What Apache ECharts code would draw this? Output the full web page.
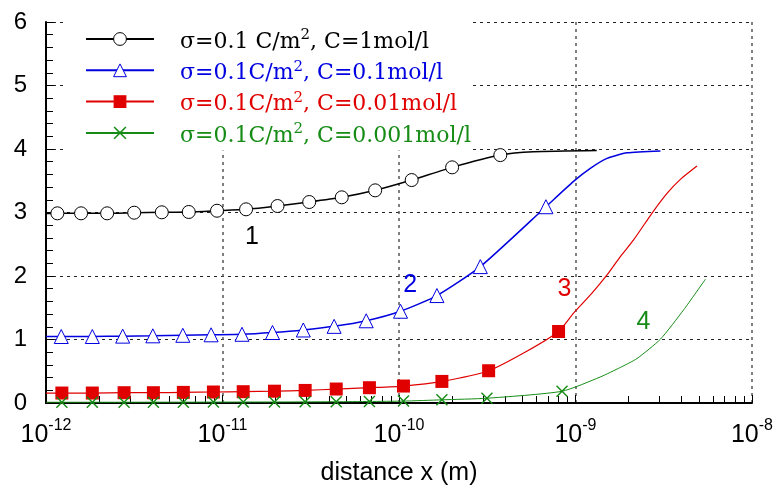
<!DOCTYPE html>
<html>
<head>
<meta charset="utf-8">
<script src="https://cdn.jsdelivr.net/npm/echarts@6/dist/echarts.min.js"></script>
<style>html,body{margin:0;padding:0;background:#fff}#chart{width:776px;height:491px}</style>
</head>
<body>
<div id="chart"></div>
<script>
// ---------------- data ----------------
const seriesNames = ['c1', 'c2', 'c3', 'c4'];
const legendParts = [
  ['σ=0.1 C/m', ', C=1mol/l'],
  ['σ=0.1C/m', ', C=0.1mol/l'],
  ['σ=0.1C/m', ', C=0.01mol/l'],
  ['σ=0.1C/m', ', C=0.001mol/l']
];
const seriesColors = ['#000000', '#0000e0', '#e00000', '#168c16'];

// curve 1 (black, circles)
const c1MarkX = [1.16e-12, 1.58e-12, 2.22e-12, 3.16e-12, 4.53e-12, 6.44e-12, 9.31e-12, 1.36e-11, 2.05e-11, 3.10e-11, 4.74e-11, 7.33e-11, 1.18e-10, 2.00e-10, 3.75e-10];
const c1MarkY = [2.987, 2.987, 2.987, 2.997, 3.003, 3.008, 3.028, 3.05, 3.102, 3.165, 3.239, 3.349, 3.511, 3.711, 3.904];
const c1LineX = [1e-12, 5.79e-10, 1.32e-9];
const c1LineY = [2.985, 3.955, 3.975];

// curve 2 (blue, triangles)
const c2MarkX = [1.22e-12, 1.83e-12, 2.72e-12, 4.03e-12, 5.96e-12, 8.62e-12, 1.29e-11, 1.92e-11, 2.87e-11, 4.29e-11, 6.52e-11, 1.02e-10, 1.64e-10, 2.89e-10, 6.80e-10];
const c2MarkY = [1.047, 1.047, 1.053, 1.058, 1.066, 1.074, 1.082, 1.11, 1.15, 1.207, 1.295, 1.445, 1.692, 2.148, 3.091];
const c2LineX = [1e-12, 9.75e-10, 1.213e-9, 1.509e-9, 1.96e-9, 3.03e-9];
const c2LineY = [1.047, 3.49, 3.695, 3.852, 3.94, 3.97];

// curve 3 (red, squares)
const c3MarkX = [1.23e-12, 1.83e-12, 2.77e-12, 4.06e-12, 6.0e-12, 8.88e-12, 1.31e-11, 1.97e-11, 2.94e-11, 4.41e-11, 6.8e-11, 1.06e-10, 1.75e-10, 3.22e-10, 8.02e-10];
const c3MarkY = [0.157, 0.157, 0.162, 0.162, 0.167, 0.173, 0.178, 0.186, 0.198, 0.22, 0.241, 0.267, 0.34, 0.508, 1.126];
const c3LineX = [1e-12, 5.08e-10, 9.75e-10, 1.24e-9, 1.509e-9, 1.795e-9, 2.134e-9, 2.735e-9, 3.30e-9, 3.93e-9, 4.88e-9];
const c3LineY = [0.155, 0.786, 1.415, 1.73, 2.017, 2.305, 2.568, 3.003, 3.302, 3.522, 3.731];

// curve 4 (green, crosses)
const c4MarkX = [1.23e-12, 1.83e-12, 2.77e-12, 4.06e-12, 6.0e-12, 8.88e-12, 1.31e-11, 1.97e-11, 2.94e-11, 4.41e-11, 6.8e-11, 1.06e-10, 1.75e-10, 3.15e-10, 8.39e-10];
const c4MarkY = [0.012, 0.012, 0.012, 0.013, 0.013, 0.014, 0.015, 0.016, 0.018, 0.02, 0.024, 0.03, 0.05, 0.075, 0.185];
const c4LineX = [1e-12, 1.38e-9, 1.795e-9, 2.23e-9, 3.03e-9, 4.1e-9, 5.45e-9];
const c4LineY = [0.012, 0.409, 0.56, 0.70, 1.006, 1.467, 1.95];

// curve number labels (data coordinates)
const curveLabelText = ['1', '2', '3', '4'];
const curveLabelX = [1.47e-11, 1.157e-10, 8.67e-10, 2.43e-9];
const curveLabelY = [2.615, 1.86, 1.797, 1.267];

// axes
const xMin = 1e-12, xMax = 1e-8;
const xDecadeExponents = [-12, -11, -10, -9];
const minorTickMultipliers = [2, 3, 4, 5, 6, 7, 8, 9];
const yMin = 0, yMax = 6, yInterval = 1;
const xAxisName = 'distance x (m)';

// ---------------- build ----------------
const SANS = 'Liberation Sans, Arial, sans-serif';
const SERIF = 'DejaVu Serif, Liberation Serif, serif';
const crossPath = 'path://M0,1L1,0L6,5L11,0L12,1L7,6L12,11L11,12L6,7L1,12L0,11L5,6Z';
const symbols = ['circle', 'triangle', 'rect', crossPath];
const symbolSizes = [13, 14, 13, 12];
const symbolFills = ['#ffffff', '#ffffff', '#e00000', '#168c16'];
const symbolBorders = [1, 1, 0, 0];
const lineWidths = [1.5, 1.5, 1.2, 1];

function buildData(mx, my, lx, ly) {
  const pts = [];
  mx.forEach((x, i) => pts.push({ value: [x, my[i]] }));
  lx.forEach((x, i) => pts.push({ value: [x, ly[i]], symbol: 'none' }));
  pts.sort((a, b) => a.value[0] - b.value[0]);
  return pts;
}
const allData = [
  buildData(c1MarkX, c1MarkY, c1LineX, c1LineY),
  buildData(c2MarkX, c2MarkY, c2LineX, c2LineY),
  buildData(c3MarkX, c3MarkY, c3LineX, c3LineY),
  buildData(c4MarkX, c4MarkY, c4LineX, c4LineY)
];

const minorTickLogs = [];
xDecadeExponents.forEach(e => minorTickMultipliers.forEach(m => minorTickLogs.push(e + Math.log10(m))));

const series = seriesNames.map((name, i) => ({
  name: name,
  type: 'line',
  xAxisIndex: 0,
  data: allData[i],
  smooth: 0.2,
  symbol: symbols[i],
  symbolSize: symbolSizes[i],
  showAllSymbol: true,
  lineStyle: { color: seriesColors[i], width: lineWidths[i] },
  itemStyle: { color: symbolFills[i], borderColor: seriesColors[i], borderWidth: symbolBorders[i] },
  emphasis: { disabled: true },
  markPoint: {
    symbol: 'circle',
    symbolSize: 1,
    itemStyle: { color: 'rgba(0,0,0,0)', borderWidth: 0 },
    label: {
      show: true, position: 'inside', formatter: curveLabelText[i],
      fontFamily: SANS, fontSize: 25, color: seriesColors[i]
    },
    data: [{ coord: [curveLabelX[i], curveLabelY[i]] }]
  },
  z: 2
}));

const option = {
  animation: false,
  backgroundColor: '#fff',
  grid: { left: 46, right: 24, top: 22, bottom: 88, containLabel: false },
  xAxis: [{
    type: 'log', logBase: 10, min: xMin, max: xMax,
    name: xAxisName, nameLocation: 'middle', nameGap: 58,
    nameTextStyle: { fontFamily: SANS, fontSize: 25, color: '#000' },
    axisLine: { show: true, onZero: false, lineStyle: { color: '#000', width: 2 } },
    axisTick: { show: true, inside: true, length: 8, lineStyle: { color: '#000', width: 1 } },
    minorTick: { show: false },
    axisLabel: {
      margin: 15,
      formatter: v => '{b|10}{s|' + Math.round(Math.log10(v)) + '}',
      rich: {
        b: { fontFamily: SANS, fontSize: 25, lineHeight: 30, color: '#000', verticalAlign: 'bottom' },
        s: { fontFamily: SANS, fontSize: 16, lineHeight: 16, color: '#000', verticalAlign: 'top' }
      }
    },
    splitLine: { show: true, lineStyle: { color: '#555', width: 1.5, type: [3, 4] } }
  }, {
    type: 'value', min: Math.log10(xMin), max: Math.log10(xMax), position: 'bottom',
    axisLine: { show: false },
    axisLabel: { show: false },
    splitLine: { show: false },
    axisTick: { show: true, inside: true, length: 7, customValues: minorTickLogs, lineStyle: { color: '#000', width: 1 } }
  }],
  yAxis: {
    type: 'value', min: yMin, max: yMax, interval: yInterval,
    axisLine: { show: true, lineStyle: { color: '#000', width: 2 } },
    axisTick: { show: true, inside: true, length: 8, lineStyle: { color: '#000', width: 1 } },
    minorTick: { show: true, splitNumber: 5, length: 7, lineStyle: { color: '#000', width: 1 } },
    axisLabel: { fontFamily: SANS, fontSize: 24, color: '#000', margin: 19, padding: [0, 0, 7, 0] },
    splitLine: { show: true, lineStyle: { color: '#222', width: 1, type: [3, 4] } }
  },
  legend: {
    orient: 'vertical', left: 85, top: 28, padding: 0,
    itemWidth: 68, itemHeight: 16, itemGap: 6.3,
    selectedMode: false,
    data: seriesNames.map((n, i) => ({
      name: n,
      textStyle: { color: seriesColors[i] },
      itemStyle: { borderWidth: symbolBorders[i], borderColor: seriesColors[i], color: symbolFills[i] }
    })),
    formatter: name => {
      const i = seriesNames.indexOf(name);
      return '{n|' + legendParts[i][0] + '}{s|2}{n|' + legendParts[i][1] + '}';
    },
    textStyle: {
      padding: [6, 0, 0, 21],
      rich: {
        n: { fontFamily: SERIF, fontSize: 22, lineHeight: 28 },
        s: { fontFamily: SERIF, fontSize: 15, lineHeight: 15, verticalAlign: 'top' }
      }
    }
  },
  graphic: [{
    type: 'rect', silent: true, z: 3,
    shape: { x: 66, y: 14, width: 407, height: 136.5 },
    style: { fill: '#fff' }
  }],
  series: series
};

const chart = echarts.init(document.getElementById('chart'), null, { renderer: 'canvas' });
chart.setOption(option);
</script>
</body>
</html>
